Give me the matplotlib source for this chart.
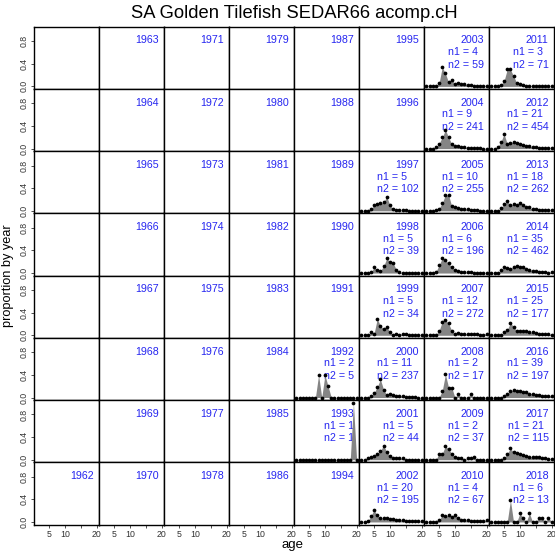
import matplotlib
matplotlib.use("Agg")
import matplotlib.pyplot as plt
import numpy as np

plt.rcParams['font.family'] = ['Liberation Sans', 'DejaVu Sans']

title = "SA Golden Tilefish SEDAR66 acomp.cH"
ages = list(range(1, 21))

# age composition (proportion at age 1..20) per year
comp_1992 = [0, 0, 0, 0, 0, 0, 0, 0.4, 0, 0.4, 0.2, 0, 0, 0, 0, 0, 0, 0, 0, 0]
comp_1993 = [0, 0, 0, 0, 0, 0, 0, 0, 0, 0, 0, 0, 0, 0, 0, 0, 0, 0, 1.0, 0]
comp_1997 = [0, 0, 0, 0.03, 0.1, 0.12, 0.13, 0.15, 0.25, 0.1, 0.03, 0.01, 0.01, 0.01, 0.01, 0.005, 0.005, 0, 0, 0]
comp_1998 = [0, 0, 0, 0.01, 0.1, 0.06, 0.04, 0.12, 0.26, 0.2, 0.18, 0.06, 0.01, 0.005, 0.005, 0, 0, 0, 0, 0]
comp_1999 = [0, 0, 0, 0.05, 0.03, 0.29, 0.17, 0.11, 0.15, 0.06, 0.01, 0.03, 0.01, 0.03, 0.03, 0.01, 0, 0, 0, 0]
comp_2000 = [0, 0, 0, 0.02, 0.08, 0.19, 0.32, 0.14, 0.05, 0.06, 0.05, 0.03, 0.03, 0.02, 0.015, 0.01, 0.005, 0.005, 0, 0]
comp_2001 = [0, 0, 0.023, 0.045, 0.068, 0.11, 0.16, 0.25, 0.14, 0.07, 0.023, 0.023, 0.023, 0.023, 0, 0, 0, 0, 0, 0]
comp_2002 = [0, 0, 0.01, 0.11, 0.21, 0.12, 0.065, 0.075, 0.065, 0.05, 0.045, 0.04, 0.04, 0.03, 0.025, 0.02, 0.015, 0.01, 0.01, 0.01]
comp_2003 = [0, 0, 0, 0.01, 0.06, 0.34, 0.23, 0.07, 0.12, 0.04, 0.06, 0.05, 0.04, 0.03, 0.02, 0.015, 0.01, 0.01, 0.005, 0.005]
comp_2004 = [0, 0, 0, 0.02, 0.09, 0.2, 0.33, 0.2, 0.08, 0.05, 0.04, 0.03, 0.02, 0.015, 0.01, 0.01, 0.005, 0.005, 0, 0]
comp_2005 = [0, 0, 0, 0.01, 0.04, 0.14, 0.28, 0.28, 0.08, 0.06, 0.05, 0.04, 0.03, 0.03, 0.02, 0.02, 0.01, 0.005, 0.005, 0.005]
comp_2006 = [0, 0, 0, 0.02, 0.14, 0.26, 0.23, 0.17, 0.11, 0.05, 0.03, 0.02, 0.015, 0.01, 0.01, 0.005, 0.005, 0, 0, 0]
comp_2007 = [0, 0, 0, 0.01, 0.08, 0.24, 0.27, 0.21, 0.08, 0.03, 0.04, 0.03, 0.03, 0.02, 0.03, 0.02, 0.02, 0.01, 0.01, 0.03]
comp_2008 = [0, 0, 0, 0, 0, 0.118, 0.412, 0.176, 0.176, 0, 0.059, 0, 0, 0, 0.059, 0, 0, 0, 0, 0]
comp_2009 = [0, 0, 0, 0, 0.11, 0.11, 0.24, 0.19, 0.11, 0.054, 0.027, 0.027, 0, 0.027, 0.027, 0.054, 0, 0, 0, 0]
comp_2010 = [0, 0, 0, 0, 0.03, 0.12, 0.1, 0.12, 0.09, 0.13, 0.075, 0.03, 0.03, 0.03, 0.015, 0.015, 0.015, 0.015, 0.015, 0.03]
comp_2011 = [0, 0, 0.01, 0.03, 0.1, 0.3, 0.3, 0.18, 0.06, 0.04, 0.02, 0.015, 0.01, 0.01, 0.005, 0.005, 0.005, 0.005, 0, 0]
comp_2012 = [0, 0, 0.03, 0.12, 0.26, 0.08, 0.1, 0.12, 0.1, 0.08, 0.06, 0.05, 0.04, 0.03, 0.02, 0.015, 0.01, 0.01, 0.005, 0.005]
comp_2013 = [0, 0, 0, 0.05, 0.12, 0.17, 0.1, 0.12, 0.1, 0.13, 0.1, 0.07, 0.06, 0.03, 0.03, 0.02, 0.02, 0.01, 0.01, 0.01]
comp_2014 = [0, 0, 0, 0.05, 0.1, 0.09, 0.08, 0.11, 0.13, 0.11, 0.1, 0.08, 0.06, 0.04, 0.03, 0.02, 0.01, 0.01, 0.005, 0.02]
comp_2015 = [0, 0, 0, 0, 0.05, 0.1, 0.22, 0.15, 0.08, 0.08, 0.07, 0.07, 0.05, 0.05, 0.04, 0.03, 0.03, 0.02, 0.02, 0.01]
comp_2016 = [0, 0, 0, 0, 0.03, 0.06, 0.12, 0.13, 0.12, 0.11, 0.1, 0.09, 0.07, 0.06, 0.05, 0.04, 0.03, 0.03, 0.02, 0.03]
comp_2017 = [0, 0, 0, 0, 0.03, 0.11, 0.2, 0.13, 0.12, 0.1, 0.08, 0.06, 0.05, 0.05, 0.05, 0.04, 0.03, 0.03, 0.01, 0.01]
comp_2018 = [0, 0, 0, 0, 0, 0, 0.385, 0, 0, 0.154, 0.077, 0, 0.154, 0, 0, 0.077, 0.077, 0, 0.077, 0]

comps = {
    1992: comp_1992, 1993: comp_1993, 1997: comp_1997, 1998: comp_1998,
    1999: comp_1999, 2000: comp_2000, 2001: comp_2001, 2002: comp_2002,
    2003: comp_2003, 2004: comp_2004, 2005: comp_2005, 2006: comp_2006,
    2007: comp_2007, 2008: comp_2008, 2009: comp_2009, 2010: comp_2010,
    2011: comp_2011, 2012: comp_2012, 2013: comp_2013, 2014: comp_2014,
    2015: comp_2015, 2016: comp_2016, 2017: comp_2017, 2018: comp_2018,
}

# number of trips (n1) and fish (n2) per year
n1 = {1992: 2, 1993: 1, 1997: 5, 1998: 5, 1999: 5, 2000: 11, 2001: 5, 2002: 20,
      2003: 4, 2004: 9, 2005: 10, 2006: 6, 2007: 12, 2008: 2, 2009: 2, 2010: 4,
      2011: 3, 2012: 21, 2013: 18, 2014: 35, 2015: 25, 2016: 39, 2017: 21, 2018: 6}
n2 = {1992: 5, 1993: 1, 1997: 102, 1998: 39, 1999: 34, 2000: 237, 2001: 44, 2002: 195,
      2003: 59, 2004: 241, 2005: 255, 2006: 196, 2007: 272, 2008: 17, 2009: 37, 2010: 67,
      2011: 71, 2012: 454, 2013: 262, 2014: 462, 2015: 177, 2016: 197, 2017: 115, 2018: 13}

first_year, last_year = 1962, 2018
ncol, nrow = 8, 8
start_year = first_year - (nrow - 1)   # top-left cell of the lattice

y_ticks = [0.0, 0.4, 0.8]
y_ticklabels = ["0.0", "0.4", "0.8"]
x_ticks = [5, 10, 15, 20]
x_ticklabels = ["5", "10", "", "20"]

W, H = 555, 551
fig = plt.figure(figsize=(W / 100, H / 100), dpi=100)

left, right = 34 / W, 554 / W
top, bottom = 1 - 26.7 / H, 1 - 524.5 / H
cw = (right - left) / ncol
rh = (top - bottom) / nrow

blue = "#2626f0"
for c in range(ncol):
    for r in range(nrow):
        year = start_year + c * nrow + r
        ax = fig.add_axes([left + c * cw, top - (r + 1) * rh, cw, rh])
        ax.set_xlim(0.24, 20.76)
        ax.set_ylim(-0.045, 1.055)
        for s in ax.spines.values():
            s.set_linewidth(1.0)
            s.set_color("black")
        ax.tick_params(length=2.5, width=0.6, color="#333333", labelsize=6.3,
                       labelcolor="#333333", pad=1.5)
        if c == 0:
            ax.set_yticks(y_ticks)
            ax.set_yticklabels(y_ticklabels, rotation=90, va="center")
        else:
            ax.set_yticks([])
        if r == nrow - 1:
            ax.set_xticks(x_ticks)
            ax.set_xticklabels(x_ticklabels)
        else:
            ax.set_xticks([])

        if year < first_year:
            continue
        ax.annotate(str(year), xy=(1, 1), xycoords="axes fraction",
                    xytext=(-3.8, -6.3), textcoords="offset points",
                    ha="right", va="top", color=blue, fontsize=7.7, zorder=1)
        if year in comps:
            ax.annotate("n1 = %d\nn2 = %d" % (n1[year], n2[year]), xy=(1, 1),
                        xycoords="axes fraction", xytext=(-3.8, -14.8),
                        textcoords="offset points", ha="right", va="top",
                        multialignment="left", linespacing=1.3,
                        color=blue, fontsize=7.7, zorder=1)
            vals = comps[year]
            ax.fill_between(ages, 0, vals, color="#858585", lw=0, zorder=2)
            ax.plot(ages, vals, "o", color="black", ms=2.7, mew=0, zorder=3)

fig.text(0.5 * (left + right), 1 - 13.5 / H, title, ha="center", va="center",
         fontsize=13.2)
fig.text(8 / W, 0.5 * (top + bottom), "proportion by year", rotation=90,
         ha="center", va="center", fontsize=9.2)
fig.text(0.5 * (left + right) - 2 / W, 1 - 545 / H, "age", ha="center",
         va="center", fontsize=9.5)

fig.savefig("out.png", dpi=100)
